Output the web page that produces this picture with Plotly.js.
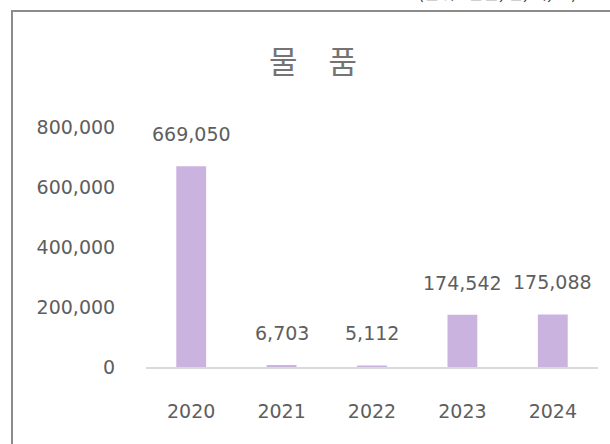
<!DOCTYPE html>
<html>
<head>
<meta charset="utf-8">
<script src="https://cdn.plot.ly/plotly-3.0.1.min.js"></script>
<style>
  html, body { margin: 0; padding: 0; background: #ffffff; overflow: hidden; }
  #wrap { position: relative; width: 610px; height: 444px; overflow: hidden; }
  #frame { position: absolute; left: 11px; top: 10px; width: 720px; height: 520px; border: 2px solid #8c8c8c; box-sizing: border-box; }
  #chart { position: absolute; left: 0; top: 0; width: 610px; height: 444px; }
</style>
</head>
<body>
<div id="wrap">
  <div id="frame"></div>
  <div id="chart"></div>
</div>
<script>
const years = ['2020', '2021', '2022', '2023', '2024'];
const values = [669050, 6703, 5112, 174542, 175088];
const yTicks = [0, 200000, 400000, 600000, 800000];
const yTickLabels = ['0', '200,000', '400,000', '600,000', '800,000'];
const chartTitle = '물　품';
const unitNote = '(단위 : 천원, 건, 개, %)';

const numFont = 'DejaVu Sans, sans-serif';
const textColor = '#5e5e5e';
const fmt = v => v.toLocaleString('en-US');

const L = 146, R = 12, T = 127, B = 77, W = 610, H = 444;
const pw = W - L - R, ph = H - T - B;

const idx = years.map((_, i) => i);

const annotations = idx.map(i => ({
  x: i, y: values[i], xref: 'x', yref: 'y',
  text: fmt(values[i]), showarrow: false,
  yanchor: 'middle', yshift: 32,
  font: { family: numFont, size: 19, color: textColor }
}));

annotations.push({
  x: (416 - L) / pw, y: (H - B - 6) / ph, xref: 'paper', yref: 'paper',
  text: unitNote, showarrow: false,
  xanchor: 'left', yanchor: 'bottom',
  font: { family: 'Noto Sans CJK KR, sans-serif', size: 17, color: '#404040' }
});

const data = [{
  type: 'bar',
  x: idx,
  y: values,
  width: 0.33,
  marker: { color: '#cbb3df' },
  hoverinfo: 'skip'
}];

const layout = {
  width: W, height: H,
  margin: { l: L, r: R, t: T, b: B, pad: 0 },
  paper_bgcolor: 'rgba(0,0,0,0)',
  plot_bgcolor: 'rgba(0,0,0,0)',
  showlegend: false,
  title: {
    text: chartTitle,
    x: 313 / W, xanchor: 'center',
    y: 1 - 62 / H, yanchor: 'middle',
    font: { family: 'Noto Sans CJK KR, sans-serif', size: 31, color: '#747474' }
  },
  xaxis: {
    type: 'linear',
    range: [-0.5, 4.5],
    tickvals: idx, ticktext: years,
    showgrid: false, zeroline: false,
    showline: true, linecolor: '#d9d9d9', linewidth: 1.5,
    ticks: 'outside', ticklen: 27, tickcolor: 'rgba(0,0,0,0)',
    tickfont: { family: numFont, size: 19, color: textColor },
    fixedrange: true
  },
  yaxis: {
    range: [0, 800000],
    tickvals: yTicks, ticktext: yTickLabels,
    showgrid: false, zeroline: false, showline: false,
    ticks: 'outside', ticklen: 26, tickcolor: 'rgba(0,0,0,0)',
    tickfont: { family: numFont, size: 19, color: textColor },
    fixedrange: true
  },
  annotations: annotations
};

Plotly.newPlot('chart', data, layout, { displayModeBar: false, staticPlot: true });
</script>
</body>
</html>
